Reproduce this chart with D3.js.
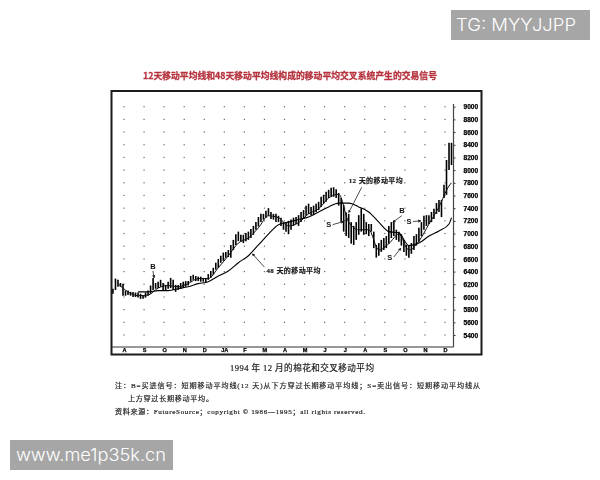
<!DOCTYPE html>
<html>
<head>
<meta charset="utf-8">
<script src="https://cdn.jsdelivr.net/npm/d3@7"></script>
<style>
  html, body { margin: 0; padding: 0; background: #fff; }
  svg { display: block; }
  .serif { font-family: "Liberation Serif", "Noto Sans CJK SC", serif; fill: #1a1a1a; stroke: #1a1a1a; stroke-width: 0.18; }
  .cjk { font-family: "Noto Sans CJK SC", sans-serif; }
</style>
</head>
<body>
<div id="chart"></div>
<script>
// --- Data ---
const months = ["A", "S", "O", "N", "D", "JA", "F", "M", "A", "M", "J", "J", "A", "S", "O", "N", "D"];
const priceTicks = [9000, 8800, 8600, 8400, 8200, 8000, 7800, 7600, 7400, 7200, 7000, 6800, 6600, 6400, 6200, 6000, 5800, 5600, 5400];

// one bar every 1/8 of a month, starting just before the first tick
const highs = [6130, 6290, 6270, 6220, 6210, 6100, 6100, 6080, 6080, 6070, 6070, 6050, 6030, 6070, 6100, 6180, 6300, 6220, 6240, 6270,
  6220, 6190, 6240, 6300, 6270, 6190, 6190, 6220, 6240, 6250, 6250, 6330, 6350, 6330, 6320, 6320, 6300, 6300, 6360, 6410,
  6460, 6540, 6600, 6650, 6700, 6710, 6740, 6820, 6900, 6990, 7030, 6980, 6980, 7010, 7030, 7070, 7120, 7180, 7260, 7310,
  7310, 7360, 7400, 7340, 7310, 7310, 7280, 7250, 7180, 7180, 7200, 7220, 7250, 7260, 7290, 7340, 7370, 7440, 7470, 7420,
  7440, 7470, 7500, 7580, 7610, 7660, 7690, 7720, 7730, 7700, 7640, 7560, 7450, 7330, 7310, 7180, 7120, 7180, 7290, 7400,
  7310, 7180, 7150, 7150, 7030, 6820, 6850, 6900, 6930, 6960, 7120, 7180, 7180, 7060, 7030, 6990, 6900, 6820, 6810, 6850,
  6960, 6990, 7090, 7180, 7280, 7290, 7290, 7340, 7390, 7480, 7530, 7530, 7770, 8160, 8430, 8430];
const lows = [6050, 6110, 6160, 6160, 6020, 6020, 6030, 6020, 6000, 6000, 5990, 5970, 5970, 5990, 6020, 6050, 6110, 6130, 6140, 6160,
  6110, 6100, 6130, 6140, 6110, 6080, 6110, 6130, 6140, 6160, 6180, 6240, 6270, 6250, 6250, 6240, 6240, 6220, 6270, 6300,
  6350, 6430, 6460, 6540, 6570, 6620, 6630, 6620, 6740, 6820, 6880, 6870, 6850, 6880, 6900, 6930, 6980, 7060, 7110, 7180,
  7220, 7250, 7280, 7230, 7220, 7180, 7180, 7120, 7060, 7030, 6990, 7060, 7120, 7150, 7120, 7180, 7230, 7280, 7310, 7290,
  7290, 7340, 7370, 7420, 7470, 7500, 7560, 7580, 7580, 7560, 7440, 7180, 7030, 6960, 6930, 6840, 6820, 6900, 6980, 7030,
  6980, 6990, 6960, 7030, 6770, 6620, 6650, 6710, 6740, 6770, 6840, 6930, 6960, 6900, 6870, 6810, 6710, 6650, 6620, 6680,
  6740, 6810, 6870, 6960, 7060, 7120, 7150, 7180, 7230, 7310, 7340, 7260, 7560, 7610, 8000, 8080];

// moving averages, sampled on a coarser set of bars
const ma12Bars = [2, 6, 10, 14, 18, 22, 26, 30, 34, 38, 42, 46, 50, 54, 58, 62, 66, 70, 74, 78, 82, 86, 90, 94, 98, 102, 106, 110, 114, 118, 122, 126, 130, 134, 135];
const ma12 = [6210, 6080, 6020, 6030, 6140, 6180, 6160, 6210, 6290, 6290, 6460, 6650, 6850, 6930, 7090, 7280, 7250, 7120, 7170, 7310,
  7390, 7560, 7620, 7180, 7060, 7060, 6740, 6840, 6990, 6740, 6880, 7150, 7420, 7750, 7800];
const ma48Bars = [10, 14, 18, 22, 26, 30, 34, 38, 42, 46, 50, 54, 58, 62, 66, 70, 74, 78, 82, 86, 90, 94, 98, 102, 106, 110, 114, 118, 122, 126, 130, 134, 135];
const ma48 = [6080, 6080, 6100, 6100, 6130, 6160, 6210, 6240, 6330, 6410, 6540, 6650, 6820, 6990, 7140, 7180, 7220, 7260, 7340, 7420,
  7480, 7480, 7420, 7340, 7180, 7030, 7010, 6810, 6850, 6960, 7040, 7150, 7250];

// signal letters: month position, price of the letter, then where its arrow ends
const signalLabels = ["B", "S", "B", "S", "S"];
const signalMonth = [1.44, 10.2, 13.85, 13.25, 14.2];
const signalPrice = [6490, 7140, 7360, 6630, 7190];
const arrowMonth = [1.5, 10.95, 13.4, 13.8, 14.8];
const arrowPrice = [6300, 7190, 7180, 6770, 7200];

const maLabels = ["12 天的移动平均", "48 天的移动平均"];
const maLabelMonth = [11.2, 7.1];
const maLabelPrice = [7830, 6410];
const maArrowFromMonth = [11.85, 7];
const maArrowFromPrice = [7730, 6470];
const maArrowToMonth = [11.2, 6.4];
const maArrowToPrice = [7330, 6680];

const titleText = "12天移动平均线和48天移动平均线构成的移动平均交叉系统产生的交易信号";
const captionText = "1994 年 12 月的棉花和交叉移动平均";
const noteLines = [
  "注：B=买进信号：短期移动平均线(12 天)从下方穿过长期移动平均线；S=卖出信号：短期移动平均线从",
  "上方穿过长期移动平均。",
  "资料来源：FutureSource；copyright © 1986—1995；all rights reserved."
];

// --- Layout ---
const W = 600, H = 480;
const svg = d3.select("#chart").append("svg").attr("width", W).attr("height", H);

// the reference is a soft scan, a small blur gets the same look
const defs = svg.append("defs");
defs.append("filter").attr("id", "scan")
  .attr("x", "-5%").attr("y", "-5%").attr("width", "110%").attr("height", "110%")
  .append("feGaussianBlur").attr("stdDeviation", 0.45);
defs.append("filter").attr("id", "soft")
  .attr("x", "-5%").attr("y", "-50%").attr("width", "110%").attr("height", "200%")
  .append("feGaussianBlur").attr("stdDeviation", 0.3);
defs.append("marker").attr("id", "head")
  .attr("viewBox", "0 0 6 6").attr("refX", 5).attr("refY", 3)
  .attr("markerWidth", 4).attr("markerHeight", 4).attr("orient", "auto")
  .append("path").attr("d", "M0,0L6,3L0,6Z").attr("fill", "#222");

const x = d3.scaleLinear().domain([0, 16]).range([124, 445]);
const y = d3.scaleLinear().domain([5400, 9000]).range([335, 106.7]);
const barX = i => x(i / 8 - 0.55);

// --- Title ---
svg.append("text").attr("class", "cjk")
  .attr("x", 143).attr("y", 78.5)
  .attr("textLength", 294).attr("lengthAdjust", "spacingAndGlyphs")
  .attr("font-size", 8.9).attr("font-weight", 700).attr("fill", "#b5343f")
  .attr("stroke", "#b5343f").attr("stroke-width", 0.3)
  .attr("filter", "url(#soft)")
  .text(titleText);

const scan = svg.append("g").attr("filter", "url(#scan)");

// --- Frame ---
scan.append("rect")
  .attr("x", 111.5).attr("y", 91).attr("width", 370).attr("height", 263.5)
  .attr("fill", "#fff").attr("stroke", "#1a1a1a").attr("stroke-width", 2);

// --- Dot grid ---
const dots = d3.cross(d3.range(months.length), priceTicks);
scan.append("g").selectAll("rect").data(dots).join("rect")
  .attr("x", d => x(d[0]) - 0.6)
  .attr("y", d => y(d[1]) - 0.6)
  .attr("width", 1.2).attr("height", 1.2)
  .attr("fill", "#666");

// --- Axes ---
const yAxis = d3.axisRight(y).tickValues(priceTicks).tickSize(2).tickPadding(8).tickFormat(d3.format("d"));
const gy = scan.append("g").attr("transform", "translate(453.5,0)").call(yAxis);
gy.select(".domain").remove();
gy.selectAll("text").attr("font-family", "Liberation Sans").attr("font-size", 6.6).attr("font-weight", 700)
  .attr("fill", "#000").attr("stroke", "#000").attr("stroke-width", 0.25);
gy.selectAll("line").attr("stroke", "#333");
gy.append("line").attr("y1", 104).attr("y2", 347).attr("stroke", "#444").attr("stroke-width", 1.2);

const xAxis = d3.axisBottom(x).tickValues(d3.range(months.length)).tickSize(0).tickPadding(1.5).tickFormat(i => months[i]);
const gx = scan.append("g").attr("transform", "translate(0,347)").call(xAxis);
gx.select(".domain").remove();
gx.selectAll("text").attr("font-family", "Liberation Sans").attr("font-size", 5.6).attr("font-weight", 700)
  .attr("fill", "#000").attr("stroke", "#000").attr("stroke-width", 0.25);
gx.append("line").attr("x1", 112).attr("x2", 453.5).attr("stroke", "#333").attr("stroke-width", 1);

// --- Price bars ---
scan.append("g").selectAll("line").data(highs).join("line")
  .attr("x1", (d, i) => barX(i)).attr("x2", (d, i) => barX(i))
  .attr("y1", d => y(d))
  .attr("y2", (d, i) => y(lows[i]))
  .attr("stroke", "#000").attr("stroke-width", 1.6);

// --- Moving averages ---
const ma12Line = d3.line().x((d, i) => barX(ma12Bars[i])).y(d => y(d)).curve(d3.curveMonotoneX);
const ma48Line = d3.line().x((d, i) => barX(ma48Bars[i])).y(d => y(d)).curve(d3.curveMonotoneX);
scan.append("path").attr("d", ma12Line(ma12)).attr("fill", "none").attr("stroke", "#111").attr("stroke-width", 1);
scan.append("path").attr("d", ma48Line(ma48)).attr("fill", "none").attr("stroke", "#000").attr("stroke-width", 1.1);

// --- Signals ---
signalLabels.forEach((s, i) => {
  scan.append("text")
    .attr("x", x(signalMonth[i])).attr("y", y(signalPrice[i]))
    .attr("text-anchor", "middle").attr("dy", "0.35em")
    .attr("font-family", "Liberation Sans").attr("font-weight", 700).attr("font-size", 7.5).attr("fill", "#111")
    .text(s);
  scan.append("line")
    .attr("x1", x(signalMonth[i]) + (arrowMonth[i] > signalMonth[i] + 0.2 ? 4 : 0))
    .attr("y1", y(signalPrice[i]) + (arrowPrice[i] < signalPrice[i] - 100 ? 5 : 0))
    .attr("x2", x(arrowMonth[i])).attr("y2", y(arrowPrice[i]))
    .attr("stroke", "#222").attr("stroke-width", 0.8).attr("marker-end", "url(#head)");
});

// --- Moving average labels ---
maLabels.forEach((s, i) => {
  scan.append("text").attr("class", "serif")
    .attr("x", x(maLabelMonth[i])).attr("y", y(maLabelPrice[i])).attr("dy", "0.35em")
    .attr("textLength", 54).attr("font-size", 7).attr("font-weight", 700)
    .text(s);
  scan.append("line")
    .attr("x1", x(maArrowFromMonth[i])).attr("y1", y(maArrowFromPrice[i]))
    .attr("x2", x(maArrowToMonth[i])).attr("y2", y(maArrowToPrice[i]))
    .attr("stroke", "#222").attr("stroke-width", 0.8).attr("marker-end", "url(#head)");
});

// --- Caption and notes ---
scan.append("text").attr("class", "serif")
  .attr("x", 230).attr("y", 371).attr("textLength", 144).attr("font-size", 8.6)
  .text(captionText);
const noteX = [115, 128, 115];
const noteY = [388, 400.5, 414];
const noteLen = [365, 85, 250];
noteLines.forEach((s, i) => {
  scan.append("text").attr("class", "serif")
    .attr("x", noteX[i]).attr("y", noteY[i]).attr("textLength", noteLen[i])
    .attr("font-size", 7.1)
    .text(s);
});

// --- Watermarks ---
function stamp(bx, by, bw, bh, tx, tw, s) {
  svg.append("rect").attr("x", bx).attr("y", by).attr("width", bw).attr("height", bh).attr("fill", "#a6a6a6");
  svg.append("text")
    .attr("x", tx).attr("y", by + bh / 2 + 6)
    .attr("textLength", tw).attr("lengthAdjust", "spacingAndGlyphs")
    .attr("font-family", "Inter").attr("font-weight", 300).attr("font-size", 17.5).attr("fill", "#fff")
    .text(s);
}
stamp(451, 10, 139, 30, 456, 120, "TG: MYYJJPP");
stamp(10, 440, 163, 30, 16, 150, "www.me1p35k.cn");
</script>
</body>
</html>
